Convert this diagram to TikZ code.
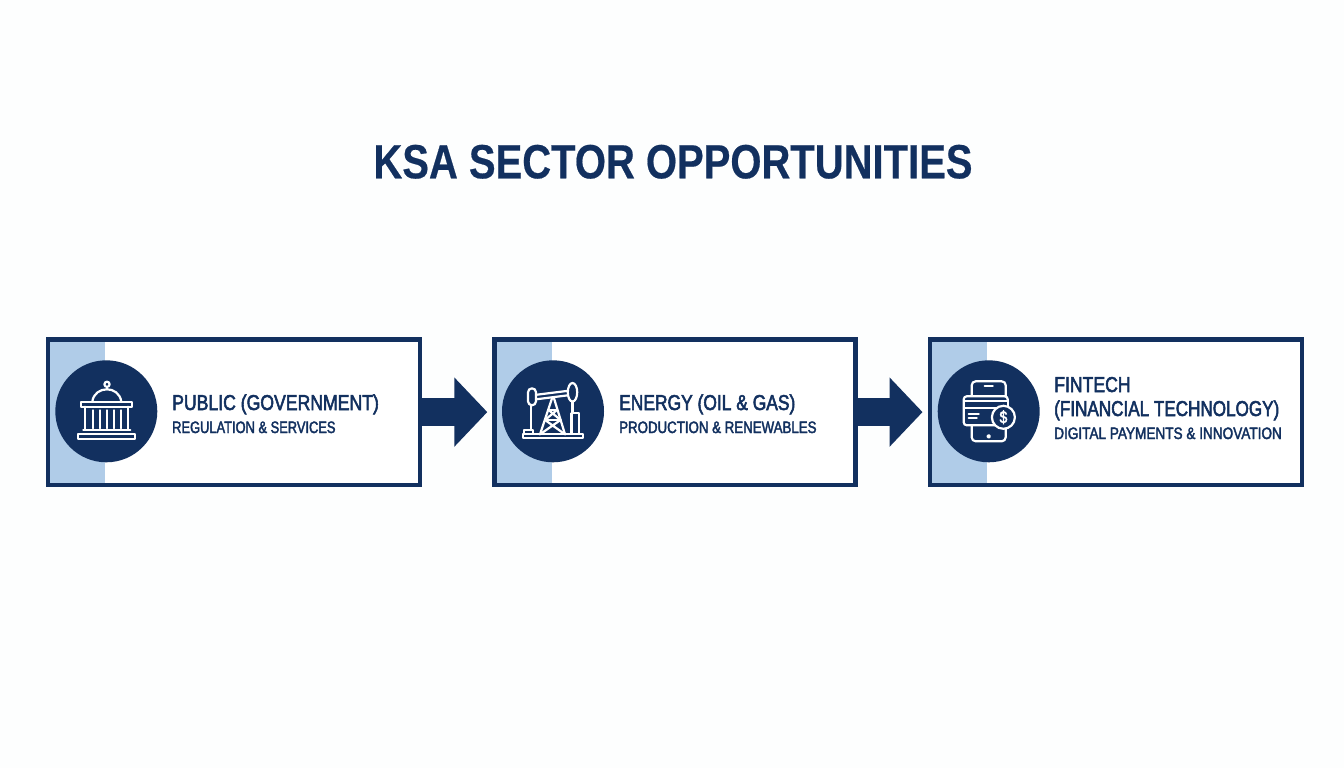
\documentclass[tikz,border=0pt]{standalone}
\usepackage{fontspec}
\usetikzlibrary{arrows.meta}
\setmainfont{Liberation Sans}
\newfontfamily\titlefont[FakeStretch=0.833,FakeBold=0.4]{Liberation Sans Bold}
\newfontfamily\headfont[FakeStretch=0.82,FakeBold=2.4]{Liberation Sans}
\newfontfamily\headfontb[FakeStretch=0.795,FakeBold=2.4]{Liberation Sans}
\newfontfamily\headfontc[FakeStretch=0.81,FakeBold=2.4]{Liberation Sans}
\newfontfamily\subfonta[FakeStretch=0.78,FakeBold=2.2]{Liberation Sans}
\newfontfamily\subfontb[FakeStretch=0.805,FakeBold=2.2]{Liberation Sans}
\newfontfamily\subfontc[FakeStretch=0.824,FakeBold=2.2]{Liberation Sans}
\definecolor{navy}{HTML}{12305F}
\definecolor{band}{HTML}{B0CCE8}
\definecolor{paper}{HTML}{FDFEFE}
\tikzset{
 panel/.style={draw=navy,line width=4.4pt,fill=white,minimum height=145.2pt,inner sep=0pt,anchor=center},
 disc/.style={circle,fill=navy,minimum size=102pt,inner sep=0pt},
 flow/.style={navy,line width=28.7pt,-{Triangle[length=33pt,width=67.4pt]},shorten >=5pt},
 title/.style={navy,font=\titlefont\fontsize{48}{48}\selectfont,anchor=base,inner sep=0pt},
 head/.style={navy,font=\headfont\fontsize{21.5}{21.5}\selectfont,anchor=base west,inner sep=0pt},
 sub/.style={navy,anchor=base west,inner sep=0pt},
 ico/.style={draw=white,line width=2.2pt,line join=round,line cap=round},
}
\newcommand{\subsize}{\fontsize{16.5}{16.5}\selectfont}
\begin{document}
\begin{tikzpicture}[x=1pt,y=-1pt]
\useasboundingbox (0,0) rectangle (1344,768);
\fill[paper] (0,0) rectangle (1344,768);
\node[title] (t) at (673,178.3) {KSA SECTOR OPPORTUNITIES};
% panels
\node[panel,minimum width=372.3pt] (b1) at (234.1,412.1) {};
\node[panel,minimum width=361pt] (b2) at (675,412.1) {};
\node[panel,minimum width=372.3pt] (b3) at (1115.9,412.1) {};
\fill[band] (50,341.7) rectangle (105,482.6);
\fill[band] (496.7,341.7) rectangle (552,482.6);
\fill[band] (932,341.7) rectangle (987.3,482.6);
\node[disc] (c1) at (106.3,411.3) {};
\node[disc] (c2) at (553,411.3) {};
\node[disc] (c3) at (988.7,411.3) {};
% connectors
\draw[flow] (b1.east) -- (b2.west);
\draw[flow] (b2.east) -- (b3.west);
% icon: government
\begin{scope}[shift={(c1.center)},ico]
\draw (0.7,-27) circle (2.6);
\draw (0.7,-24.4) -- (0.7,-22);
\draw (-14,-9.5) .. controls (-13,-18) and (-6,-22) .. (0.7,-22) .. controls (7,-22) and (14,-18) .. (15,-9.5);
\draw (-25,-9) rectangle (26,-4.7);
\draw (-21,-4.7) -- (-21,17.7) (22,-4.7) -- (22,17.7);
\foreach \x in {-13.5,-6.5,0.5,7.5,14.5}{\draw (\x,-1) -- (\x,17);}
\draw (-23,18.5) -- (24,18.5);
\draw (-28,22.5) rectangle (28.7,27.7);
\end{scope}
% icon: pumpjack
\begin{scope}[shift={(c2.center)},ico]
\draw[rounded corners=4pt] (-25,-23) rectangle (-17,-6);
\draw (-17,-16.5) -- (15,-20.5) (-17,-12) -- (15,-16);
\draw (19.5,-19) ellipse (4.7 and 9.3);
\draw (-22,-6) -- (-22,18);
\draw (19.5,-9.5) -- (19.5,2);
\draw (18.5,2) -- (26,2) -- (26,22) (18.5,2) -- (18.5,22);
\draw (-29,19) rectangle (-20,23);
\draw (-30,23) rectangle (30,27);
\draw (-1,-13) -- (-13,23) (1,-13) -- (12,23);
\draw (-4.3,-1.3) -- (4,-1.3) (-8,8.7) -- (7.5,8.7);
\draw (-4.3,-1.3) -- (7.5,8.7) (4,-1.3) -- (-8,8.7);
\draw (-8,8.7) -- (12,23) (7.5,8.7) -- (-13,23);
\end{scope}
% icon: fintech
\begin{scope}[shift={(c3.center)},ico]
\draw[rounded corners=4pt] (-17,-30) rectangle (17,30);
\draw (-4,-25.7) -- (4,-25.7);
\draw (0,25) circle (1.2);
\draw[fill=navy,rounded corners=3pt] (-25,-15) rectangle (19,14);
\draw[fill=navy] (-25,-10) rectangle (19,-3);
\draw (-20,3) -- (-10,3) (-20,6.5) -- (-12,6.5);
\node[draw=white,fill=navy,line width=2.2pt,circle,minimum size=23pt,inner sep=0pt,text=white,font=\headfont\fontsize{17}{17}\selectfont] (coin) at (14.7,6) {\$};
\end{scope}
% labels
\node[head] (h1) at (172,410) {PUBLIC (GOVERNMENT)};
\node[sub,font=\subfonta\subsize] (s1) at (172,433) {REGULATION \& SERVICES};
\node[head,font=\headfontc\fontsize{21.5}{21.5}\selectfont] (h2) at (619,410) {ENERGY (OIL \& GAS)};
\node[sub,font=\subfontb\subsize] (s2) at (619,433) {PRODUCTION \& RENEWABLES};
\node[head] (h3a) at (1054,392) {FINTECH};
\node[head,font=\headfontb\fontsize{21.5}{21.5}\selectfont] (h3b) at (1054,416) {(FINANCIAL TECHNOLOGY)};
\node[sub,font=\subfontc\subsize] (s3) at (1054,439) {DIGITAL PAYMENTS \& INNOVATION};
\end{tikzpicture}
\end{document}
